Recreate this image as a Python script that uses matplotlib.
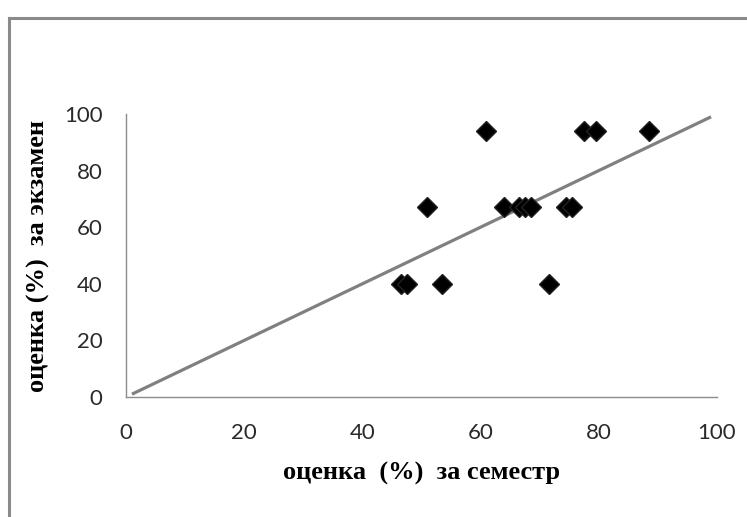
import matplotlib
matplotlib.use("Agg")
import matplotlib.pyplot as plt
from matplotlib.lines import Line2D

# оценка за семестр / за экзамен (%)
semestr = [61, 77.5, 79.5, 88.5, 51, 64, 66.5, 67.5, 68.5, 74.5, 75.5, 46.5, 47.5, 53.5, 71.5]
ekzamen = [94, 94, 94, 94, 67, 67, 67, 67, 67, 67, 67, 40, 40, 40, 40]
trend_x = [1, 99]
trend_y = [1, 99]

xticks = [0, 20, 40, 60, 80, 100]
yticks = [0, 20, 40, 60, 80, 100]

fig = plt.figure(figsize=(7.47, 5.17), dpi=100)
ax = fig.add_axes([0.1687, 0.2321, 0.7911, 0.5474])

ax.plot(trend_x, trend_y, color="#808080", lw=2.3, solid_capstyle="butt", zorder=2)
ax.plot(semestr, ekzamen, ls="none", marker="D", ms=10, color="black",
        mec="#222222", zorder=3)

ax.set_xlim(0, 100)
ax.set_ylim(0, 100)
ax.set_xticks(xticks)
ax.set_yticks(yticks)
for s in ["top", "right"]:
    ax.spines[s].set_visible(False)
for s in ["left", "bottom"]:
    ax.spines[s].set_color("#8c8c8c")
    ax.spines[s].set_linewidth(1.0)
ax.tick_params(length=0, labelsize=16, colors="#2a2a2a")
ax.tick_params(axis="x", pad=19)
ax.tick_params(axis="y", pad=17)
for lab in ax.get_xticklabels() + ax.get_yticklabels():
    lab.set_family("Lato")

ax.set_xlabel("оценка  (%)  за семестр", family="Liberation Serif",
              fontweight="bold", fontsize=19, labelpad=13)
ax.set_ylabel("оценка (%)  за экзамен", family="Liberation Serif",
              fontweight="bold", fontsize=19, labelpad=10)

# рамка области диаграммы
fig.add_artist(Line2D([9 / 747, 9 / 747], [0, 1 - 18 / 517], color="#8a8a8a", lw=2.2))
fig.add_artist(Line2D([9 / 747, 1], [1 - 18 / 517, 1 - 18 / 517], color="#8a8a8a", lw=2.2))

fig.savefig("out.png", dpi=100)
